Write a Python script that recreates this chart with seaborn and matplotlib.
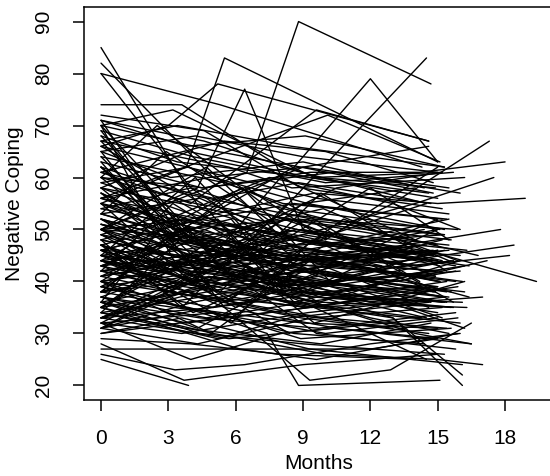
import matplotlib
matplotlib.use("Agg")
import matplotlib.pyplot as plt
import seaborn as sns
import pandas as pd

x_ticks = [0, 3, 6, 9, 12, 15, 18]
y_ticks = [20, 30, 40, 50, 60, 70, 80, 90]
x_label = "Months"
y_label = "Negative Coping"

visit_months = [
    [0, 6.5, 8.8, 14.7], [0, 3.8, 5.5, 15.0], [0, 4.5, 8.6, 12.0, 15.0], [0, 3.5, 7.7, 14.5],
    [0, 4.0, 9.6, 14.6], [0, 3.0, 5.2, 14.6], [0, 4.3, 6.4, 9.0, 15.2], [0, 5.0, 10.1, 15.1],
    [0, 4.4, 9.0, 14.8], [0, 5.0, 9.2, 15.3], [0, 5.3, 14.3], [0, 4.0, 8.5],
    [0, 3.6, 8.0, 14.5], [0, 3.2, 9.5, 15.2], [0, 4.5, 9.0, 14.5, 19.4], [0, 4.0, 9.5, 15.0, 18.9],
    [0, 4.6, 9.3, 14.2, 18.0], [0, 5.0, 9.8, 13.0, 17.3], [0, 4.0, 9.0, 14.0, 17.5], [0, 4.0, 8.5, 13.5, 17.8],
    [0, 4.2, 8.8, 13.6, 18.4], [0, 3.8, 9.0, 14.0, 18.2], [0, 4.0, 8.7, 13.2, 17.2], [0, 3.5, 9.3, 13.8, 17.0],
    [0, 3.9], [0, 3.3, 6.4, 12.0, 16.0], [0, 3.5, 7.0, 12.0, 15.0], [0, 4.0, 8.0, 14.0],
    [0, 3.7, 9.0, 15.0], [0, 7.4, 8.8, 15.1], [0, 5.5, 9.3, 12.9, 16.5], [0, 4.5, 9.0, 13.0, 16.1],
    [0, 5, 10, 15, 17], [0, 4.1, 8.9, 14.9], [0, 3.6, 9.2, 15.3], [0, 4.8, 9.5, 15.6],
    [0, 5.2, 8.4, 14.6], [0, 3.0, 8.0, 15.0], [0, 4.4, 9.7, 15.8], [0, 5.6, 10.2, 16.2],
    [0, 3.9, 8.6, 14.4], [0, 4.7, 9.1, 15.1], [0, 6.0, 9.9, 15.4], [0, 3.4, 8.3, 14.8],
    [0, 4.9, 9.4, 15.9], [0, 5.3, 10.0, 16.4], [0, 3.7, 8.8, 14.3], [0, 4.3, 9.6, 15.2],
    [0, 5.8, 8.5, 15.7], [0, 3.2, 9.0, 14.7], [0, 4.6, 10.3, 16.0], [0, 5.1, 8.7, 15.5],
    [0, 3.8, 9.8, 14.9], [0, 4.4, 8.2, 15.3], [0, 6.2, 9.3, 16.1], [0, 3.5, 8.9, 15.0],
    [0, 4.0, 9.5, 14.5], [0, 5.4, 10.1, 15.8], [0, 3.3, 8.6, 15.4], [0, 4.7, 9.2, 14.2],
    [0, 5.9, 9.7, 16.3], [0, 3.9, 8.4, 15.1], [0, 4.2, 9.9, 15.6], [0, 5.0, 8.8, 14.7],
    [0, 3.6, 9.4, 15.9], [0, 4.5, 10.4, 16.0], [0, 5.5, 8.1, 15.2], [0, 3.1, 9.0, 14.4],
    [0, 4.8, 9.6, 15.5], [0, 5.7, 8.5, 16.2], [0, 3.4, 9.3, 15.0], [0, 4.1, 10.0, 15.7],
    [0, 5.2, 8.9, 14.8], [0, 3.8, 9.1, 15.3], [0, 4.6, 9.7, 14.9], [0, 2.8, 6.5, 11.0],
    [0, 3.0, 7.0, 12.5, 15.0], [0, 4.0, 8.0, 13.0], [0, 5.0, 9.5, 14.5], [0, 3.5, 9.0],
    [0, 6.0, 12.0, 15.5], [0, 4.5, 8.0, 14.0, 16.5], [0, 5.5, 10.5, 15.0], [0, 3.2, 7.8, 13.5, 16.2],
    [0, 4.3, 9.0, 14.5], [0, 5.1, 8.4], [0, 3.9, 9.6, 15.8], [0, 3.5, 9.0, 15.0],
    [0, 4.5, 9.5, 14.5], [0, 5.0, 10.0, 15.5], [0, 6.0, 9.0, 14.0], [0, 4.0, 8.5, 15.0],
    [0, 3.0, 7.5, 13.0, 16.0], [0, 5.5, 9.0, 14.6], [0, 4.8, 10.5, 15.2], [0, 3.3, 8.2, 13.8, 16.8],
    [0, 6.5, 10.0, 15.0], [0, 4.2, 9.0, 15.0], [0, 3.6, 8.3, 14.2], [0, 5.3, 9.8, 15.4],
    [0, 4.0, 9.2, 15.7], [0, 3.2, 7.0, 12.0, 15.5], [0, 5.8, 9.4, 14.8], [0, 4.7, 8.9, 15.1],
    [0, 3.4, 9.7, 16.0], [0, 6.3, 10.2, 15.3], [0, 4.4, 8.0, 14.0], [0, 5.0, 9.5, 16.2],
    [0, 3.7, 8.7, 15.0], [0, 4.9, 9.3, 14.6], [0, 5.6, 10.8, 15.9], [0, 2.9, 8.1, 14.3],
    [0, 4.3, 9.0, 15.2], [0, 3.9, 9.9, 15.5], [0, 5.2, 8.6, 14.7], [0, 4.1, 9.6, 16.4],
    [0, 6.1, 9.1, 15.0], [0, 3.5, 8.4, 14.9], [0, 4.6, 10.1, 15.6], [0, 5.4, 9.2, 14.4],
    [0, 3.8, 8.8, 15.3], [0, 4.5, 9.4, 16.1], [0, 5.7, 9.8, 15.0], [0, 3.3, 8.5, 14.8],
    [0, 4.8, 9.0, 15.4], [0, 5.0, 10.3, 15.8], [0, 3.6, 9.1, 14.5], [0, 4.0, 8.7, 15.2],
    [0, 5.9, 9.5, 16.0], [0, 4.4, 9.2, 15.0], [0, 3.1, 8.9, 14.6], [0, 5.3, 9.7, 15.5],
    [0, 4.2, 8.3, 14.1], [0, 3.7, 9.0, 15.3], [0, 4.9, 10.0, 15.9], [0, 5.5, 9.3, 14.9],
    [0, 3.4, 8.6, 15.1], [0, 4.7, 9.8, 16.3], [0, 6.4, 9.0, 14.4], [0, 3.9, 8.2, 15.0],
    [0, 4.3, 9.5, 15.6], [0, 5.1, 8.8, 14.7], [0, 3.2, 9.4, 15.2], [0, 4.6, 10.2, 15.8],
    [0, 5.8, 9.1, 14.3], [0, 3.5, 8.4, 15.4], [0, 4.0, 9.6, 16.0], [0, 5.2, 8.7, 15.0],
    [0, 3.8, 9.3, 14.8], [0, 4.5, 9.9, 15.5], [0, 5.6, 8.5, 14.6], [0, 4.1, 9.2, 15.3],
    [0, 3.3, 8.8, 15.1], [0, 4.8, 9.4, 14.9], [0, 5.0, 10.0, 16.2], [0, 3.6, 9.0, 15.0],
    [0, 4.4, 8.6, 14.5], [0, 5.4, 9.7, 15.7], [0, 3.0, 8.3, 14.2], [0, 4.7, 9.1, 15.4],
    [0, 6.0, 9.6, 15.2], [0, 4.0], [0, 3.5, 9.0], [0, 5.0],
    [0, 4.2, 8.5], [0, 3.0, 7.0, 12.0], [0, 6.0, 10.0], [0, 4.5, 9.5, 12.5],
    [0, 3.8, 8.0, 13.0], [0, 4.2, 9.0, 15.0], [0, 3.4, 8.5, 15.3], [0, 5.5, 10.0, 14.8],
    [0, 3.9, 9.3, 14.6], [0, 4.6, 8.9, 15.2], [0, 2.5, 7.2, 12.8, 15.0], [0, 4.8, 9.0, 15.5],
    [0, 4.3, 9.4, 15.2], [0, 5.1, 8.9, 15.6], [0, 3.7, 9.8, 14.7], [0, 4.9, 9.1, 15.0],
    [0, 5.7, 10.4, 16.5], [0, 4.0, 8.0, 15.0], [0, 6.2, 9.6, 15.9], [0, 3.6, 9.3, 16.1],
    [0, 4.4, 9.0, 15.3], [0, 4.0, 8.5, 13.0, 16.1],
]

coping_scores = [
    [50, 61, 90, 78], [55, 62, 83, 63], [47, 52, 62, 79, 63], [44, 40, 52, 83],
    [61, 55, 73, 67], [66, 70, 78, 67], [50, 58, 77, 50, 44], [56, 64, 72, 63],
    [85, 54, 48, 45], [82, 60, 55, 50], [80, 74, 62], [80, 58, 45],
    [74, 74, 62, 55], [70, 73, 60, 61], [45, 48, 44, 46, 40], [50, 52, 57, 55, 56],
    [60, 58, 61, 61, 63], [40, 44, 48, 55, 67], [43, 45, 49, 55, 60], [38, 40, 44, 47, 50],
    [42, 44, 43, 44, 47], [46, 45, 45, 43, 45], [35, 38, 42, 40, 44], [30, 32, 35, 36, 37],
    [25, 20], [26, 23, 24, 28, 30], [27, 27, 27, 27, 29], [29, 28, 26, 25],
    [28, 21, 24, 26], [40, 30, 20, 21], [45, 35, 21, 23, 32], [50, 40, 38, 33, 20],
    [35, 30, 26, 25, 24], [31, 36, 40, 38], [32, 30, 34, 37], [33, 41, 37, 35],
    [34, 29, 33, 36], [35, 44, 39, 42], [36, 33, 31, 34], [37, 46, 41, 38],
    [38, 35, 30, 28], [39, 42, 45, 40], [40, 36, 33, 31], [41, 48, 44, 46],
    [42, 37, 35, 39], [43, 51, 47, 43], [44, 39, 36, 33], [45, 40, 42, 37],
    [46, 52, 38, 35], [47, 43, 49, 45], [48, 44, 40, 42], [49, 45, 50, 47],
    [50, 46, 42, 38], [51, 47, 53, 49], [52, 41, 44, 40], [53, 49, 46, 44],
    [54, 58, 50, 45], [55, 50, 47, 43], [56, 51, 55, 52], [57, 48, 44, 47],
    [58, 53, 49, 46], [59, 62, 54, 50], [60, 55, 51, 48], [61, 56, 59, 55],
    [62, 57, 52, 50], [63, 58, 61, 57], [64, 59, 55, 52], [65, 60, 63, 58],
    [66, 61, 56, 53], [67, 62, 58, 60], [68, 63, 60, 56], [69, 64, 59, 61],
    [70, 65, 62, 57], [71, 66, 68, 62], [71, 67, 60, 58], [70, 57, 48, 45],
    [71, 52, 45, 42, 40], [69, 48, 40, 36], [68, 45, 38, 33], [70, 42, 35],
    [67, 40, 33, 30], [66, 55, 38, 30, 28], [65, 35, 31, 29], [64, 50, 42, 35, 31],
    [62, 44, 36, 25], [63, 38, 30], [60, 47, 30, 27], [31, 38, 45, 50],
    [32, 42, 48, 55], [33, 35, 47, 52], [31, 45, 55, 58], [34, 50, 42, 46],
    [36, 52, 60, 55, 50], [38, 56, 62, 66], [35, 46, 58, 61], [33, 40, 52, 48, 45],
    [40, 58, 48, 62], [45, 60, 38, 50], [48, 35, 55, 40], [52, 38, 57, 42],
    [55, 40, 52, 36], [42, 55, 45, 58, 48], [46, 32, 48, 38], [50, 62, 45, 40],
    [38, 50, 36, 44], [44, 58, 40, 46], [57, 42, 60, 48], [35, 48, 32, 40],
    [58, 45, 40, 52], [40, 30, 44, 35], [49, 36, 52, 44], [53, 65, 50, 46],
    [37, 31, 42, 33], [62, 48, 54, 44], [43, 52, 36, 42], [47, 34, 45, 37],
    [51, 42, 38, 46], [39, 47, 52, 41], [54, 50, 41, 38], [41, 36, 39, 44],
    [46, 50, 47, 49], [36, 40, 37, 36], [44, 41, 38, 39], [49, 44, 48, 45],
    [42, 46, 42, 38], [39, 35, 38, 42], [52, 48, 45, 47], [47, 42, 40, 36],
    [34, 38, 35, 32], [56, 52, 48, 44], [43, 38, 33, 30], [50, 48, 44, 46],
    [45, 43, 47, 43], [41, 44, 40, 37], [37, 34, 30, 33], [53, 46, 43, 41],
    [48, 52, 49, 43], [44, 40, 36, 35], [40, 44, 46, 50], [51, 47, 43, 39],
    [46, 41, 39, 44], [38, 42, 38, 36], [55, 49, 44, 42], [42, 39, 43, 40],
    [47, 37, 35, 38], [33, 37, 41, 36], [59, 53, 47, 45], [44, 47, 50, 45],
    [36, 32, 35, 39], [50, 43, 40, 37], [41, 45, 42, 46], [48, 44, 38, 36],
    [57, 50, 52, 49], [35, 39, 44, 42], [45, 42, 39, 43], [39, 35, 32, 31],
    [53, 56, 48, 44], [43, 38, 41, 44], [49, 53, 46, 43], [37, 33, 36, 40],
    [52, 45, 42, 48], [47, 40], [55, 50, 44], [62, 45],
    [38, 44, 37], [44, 39, 42, 36], [50, 35, 42], [58, 51, 46, 43],
    [33, 38, 34, 31], [65, 68, 64, 61], [67, 70, 66, 62], [61, 67, 65, 59],
    [58, 65, 60, 57], [72, 69, 58, 54], [60, 70, 55, 49, 47], [56, 60, 62, 58],
    [31, 28, 33, 35], [32, 34, 29, 31], [34, 31, 28, 32], [31, 35, 38, 34],
    [33, 29, 31, 28], [32, 25, 30, 33], [35, 27, 25, 30], [30, 33, 27, 24],
    [36, 30, 28, 26], [46, 40, 36, 33, 22],
]

rows = []
for sid, (ms, vs) in enumerate(zip(visit_months, coping_scores)):
    for m, v in zip(ms, vs):
        rows.append({"subject": sid, "month": m, "score": v})
df = pd.DataFrame(rows)

sns.set_theme(style="white")
plt.rcParams["font.family"] = ["Liberation Sans", "DejaVu Sans"]

fig = plt.figure(figsize=(5.5, 4.76), dpi=100)
ax = fig.add_axes([83.6 / 550, 76 / 476, (554 - 83.6) / 550, (400 - 7) / 476])

sns.lineplot(data=df, x="month", y="score", units="subject", estimator=None,
             color="black", linewidth=1.0, ax=ax, legend=False)

ax.set_xlim(-0.776, 20.18)
ax.set_ylim(17.2, 92.8)
ax.set_xticks(x_ticks)
ax.set_yticks(y_ticks)
ax.set_xticklabels([str(t) for t in x_ticks], fontsize=15)
ax.set_yticklabels([str(t) for t in y_ticks], fontsize=15, rotation=90, va="center")
ax.tick_params(axis="both", direction="out", length=8, width=1.1, color="black",
               labelcolor="black", bottom=True, left=True)
ax.tick_params(axis="x", pad=13)
ax.tick_params(axis="y", pad=14)
for s in ax.spines.values():
    s.set_visible(True)
    s.set_color("black")
    s.set_linewidth(1.1)
ax.set_xlabel(x_label, fontsize=15, color="black", labelpad=4)
ax.set_ylabel(y_label, fontsize=15, color="black", labelpad=7)
ax.grid(False)

fig.savefig("out.png", dpi=100)
